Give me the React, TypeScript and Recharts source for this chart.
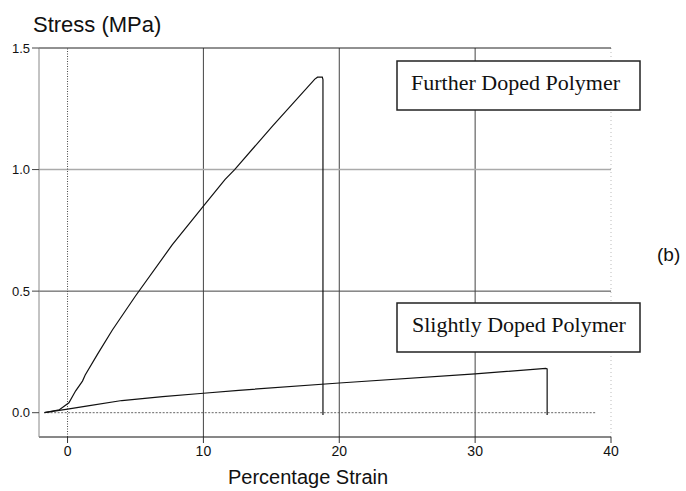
import { LineChart, Line, XAxis, YAxis, ReferenceLine } from 'recharts';

// stress-strain readings
const furtherStrain = [-1.7, -0.6, 0.1, 0.6, 1.1, 1.3, 2.2, 3.3, 5.0, 7.7, 10.0, 11.6, 12.3, 15.1, 18.2, 18.4, 18.75, 18.8, 18.8];
const furtherStress = [0.0, 0.012, 0.041, 0.09, 0.13, 0.155, 0.24, 0.34, 0.48, 0.69, 0.85, 0.96, 1.0, 1.18, 1.372, 1.38, 1.38, 1.37, -0.01];

const slightStrain = [-1.7, 0, 1.5, 4.0, 7.0, 10, 12.6, 20, 30, 35.2, 35.3, 35.3];
const slightStress = [0.0, 0.015, 0.028, 0.05, 0.066, 0.08, 0.092, 0.122, 0.16, 0.182, 0.18, -0.01];

const xTicks = [0, 10, 20, 30, 40];
const yTicks = [0, 0.5, 1.0, 1.5];

const furtherData = furtherStrain.map((x, i) => ({ x, y: furtherStress[i] }));
const slightData = slightStrain.map((x, i) => ({ x, y: slightStress[i] }));

const SANS = "'Liberation Sans', Arial, sans-serif";
const SERIF = "'Liberation Serif', 'Times New Roman', serif";

export default function App() {
  return (
    <div style={{ position: 'absolute', left: 0, top: 0, width: 686, height: 491, background: '#fff' }}>
      <LineChart width={686} height={491} margin={{ top: 48, right: 75, left: 0, bottom: 24 }}>
        <XAxis
          type="number"
          dataKey="x"
          domain={[-2.1, 40]}
          ticks={xTicks}
          allowDataOverflow
          height={30}
          axisLine={{ stroke: '#111' }}
          tickLine={{ stroke: '#333' }}
          tickSize={6}
          tickMargin={3}
          tick={{ fontSize: 14, fill: '#111', fontFamily: SANS }}
        />
        <YAxis
          type="number"
          domain={[-0.1, 1.5]}
          ticks={yTicks}
          allowDataOverflow
          width={39}
          tickFormatter={(v: number) => v.toFixed(1)}
          axisLine={{ stroke: '#888' }}
          tickLine={{ stroke: '#444' }}
          tickSize={7}
          tickMargin={2}
          tick={{ fontSize: 13, fill: '#111', fontFamily: SANS }}
        />
        <ReferenceLine x={10} stroke="#444" />
        <ReferenceLine x={20} stroke="#444" />
        <ReferenceLine x={30} stroke="#444" />
        <ReferenceLine x={40} stroke="#bbb" strokeDasharray="1 3" />
        <ReferenceLine y={0.5} stroke="#444" />
        <ReferenceLine y={1.0} stroke="#aaa" strokeWidth={1.5} />
        <ReferenceLine y={1.5} stroke="#222" />
        <ReferenceLine x={0} stroke="#444" strokeDasharray="1 1.5" />
        <ReferenceLine segment={[{ x: -1.5, y: 0 }, { x: 38.9, y: 0 }]} stroke="#666" strokeDasharray="2 1.5" />
        <Line
          data={furtherData}
          dataKey="y"
          type="linear"
          stroke="#111"
          strokeWidth={1.2}
          dot={false}
          isAnimationActive={false}
        />
        <Line
          data={slightData}
          dataKey="y"
          type="linear"
          stroke="#111"
          strokeWidth={1.2}
          dot={false}
          isAnimationActive={false}
        />
      </LineChart>
      <svg width={686} height={491} style={{ position: 'absolute', left: 0, top: 0, pointerEvents: 'none' }}>
        <text x={33} y={32} fontSize={22} fontFamily={SANS} fill="#111">Stress (MPa)</text>
        <text x={228} y={484} fontSize={20} fontFamily={SANS} fill="#111">Percentage Strain</text>
        <text x={657} y={261} fontSize={19} fontFamily={SANS} fill="#111">(b)</text>
        <rect x={397} y={61} width={243} height={49} fill="#fff" stroke="#222" strokeWidth={1.5} />
        <text x={411} y={90} fontSize={22} fontFamily={SERIF} fill="#111">Further Doped Polymer</text>
        <rect x={397} y={303} width={243} height={49} fill="#fff" stroke="#222" strokeWidth={1.5} />
        <text x={412} y={332} fontSize={22} fontFamily={SERIF} fill="#111">Slightly Doped Polymer</text>
      </svg>
    </div>
  );
}
